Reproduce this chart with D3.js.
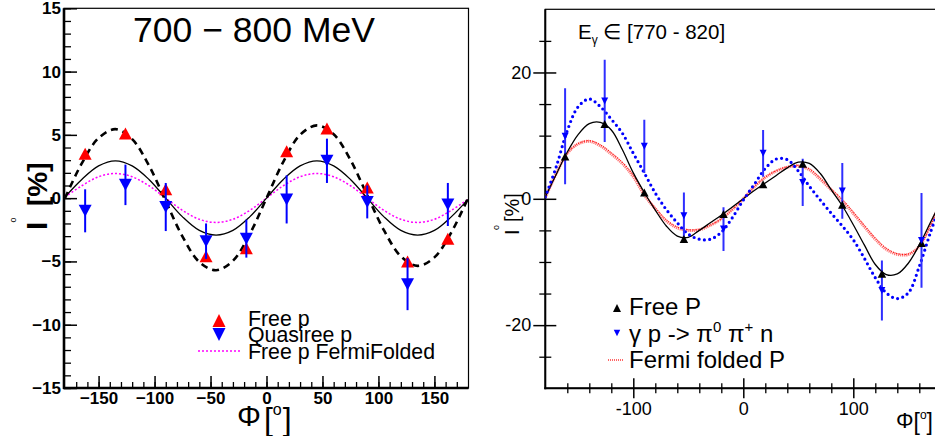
<!DOCTYPE html>
<html><head><meta charset="utf-8">
<script src="https://cdn.jsdelivr.net/npm/d3@7"></script>
<style>body{margin:0;background:#fff}svg{display:block}text{font-family:"Liberation Sans",Arial,sans-serif}</style>
</head><body><svg id="c" width="935" height="436"></svg>
<script>
// ---------- DATA ----------
const phiBins = [-162,-126,-90,-54,-18,18,54,90,126,162];
// left panel (700-800 MeV)
const leftFree = [3.5, 5.1, 0.7, -4.6, -3.95, 3.7, 5.5, 0.85, -5.0, -3.2];
const leftQuasi = [-1.0, 1.05, -0.7, -3.4, -3.2, -0.1, 2.95, -0.3, -6.8, -0.5];
const leftQuasiErr = [1.7, 1.6, 1.9, 1.4, 1.5, 1.9, 1.75, 1.3, 2.05, 1.7];
const leftCurvePhi = [-180,-165,-150,-135,-120,-105,-90,-75,-60,-45,-30,-15,0,15,30,45,60,75,90,105,120,135,150,165,180];
const leftDashed = [0,2.75,4.75,5.45,4.66,2.58,-0.24,-3.04,-5.05,-5.7,-4.95,-2.85,0,2.87,5.0,5.75,5.05,3.02,0.22,-2.55,-4.6,-5.35,-4.68,-2.72,0];
const leftSolid = [0.1,1.48,2.55,2.95,2.55,1.48,0,-1.48,-2.55,-2.92,-2.55,-1.48,0,1.48,2.55,2.95,2.55,1.48,0,-1.48,-2.55,-2.92,-2.55,-1.48,-0.1];
const leftFermi = [0.1,0.98,1.69,1.95,1.69,0.98,0,-0.97,-1.67,-1.92,-1.67,-0.97,0,0.98,1.69,1.95,1.69,0.98,0,-0.97,-1.67,-1.92,-1.67,-0.97,-0.1];
const leftYTicks = [-15,-10,-5,0,5,10,15];
const leftXTicks = [-150,-100,-50,0,50,100,150];
// right panel (770-820)
const rightFree = [6.7, 11.85, 1.0, -6.35, -2.4, 2.3, 5.55, -0.95, -11.85, -7.0];
const rightPi = [9.9, 15.5, 8.3, -2.7, -4.8, 7.2, 2.6, 1.25, -14.5, -6.6];
const rightPiErr = [7.6, 6.5, 4.2, 3.7, 3.45, 3.7, 3.75, 4.4, 4.75, 7.5];
const rightCurvePhi = [-180,-170,-160,-150,-140,-130,-120,-110,-100,-90,-80,-70,-60,-50,-40,-30,-20,-10,0,10,20,30,40,50,60,70,80,90,100,110,120,130,140,150,160,170,180];
const rightSolid = [0.3,3.9,7.4,10.2,11.9,12.1,10.9,7.8,4.1,1.0,-1.8,-4.3,-5.9,-6.1,-5.0,-3.8,-2.6,-1.3,0,1.3,2.5,3.7,4.9,5.8,5.6,4.0,1.4,-1.1,-4.1,-7.3,-10.4,-12.0,-11.9,-10.2,-7.3,-3.8,-0.3];
const rightPiCurve = [0.3,5.1,10.8,14.6,15.8,14.6,12.6,10.4,7.2,4.1,0.9,-1.7,-3.8,-5.6,-6.4,-6.4,-5.3,-3.0,-0.2,2.3,4.8,6.3,6.2,4.4,2.0,-0.2,-2.3,-4.3,-6.5,-9.4,-12.5,-14.9,-15.8,-14.9,-10.7,-5.4,-0.5];
const rightFermi = [0.2,4.0,7.2,8.7,9.1,8.4,7.1,5.6,3.5,0.6,-1.6,-3.5,-4.6,-5.0,-4.9,-4.2,-3.2,-1.7,0,1.9,3.4,4.4,5.0,5.2,4.6,3.1,1.4,-0.3,-2.3,-4.4,-6.4,-8.0,-8.8,-8.8,-7.5,-4.2,-0.2];
const rightYTicks = [-20,0,20];
const rightXTicks = [-100,0,100];

// ---------- DRAW ----------
const svg = d3.select("#c");
const xL = d3.scaleLinear().domain([-180,180]).range([65,468]);
const yL = d3.scaleLinear().domain([-15,15]).range([388,8.3]);
const xR = d3.scaleLinear().domain([-180,180]).range([545.3,941.3]);
const yR = d3.scaleLinear().domain([-30,30]).range([388.3,9.3]);

function tri(cx, cy, w, h, up){
  return up ? `M${cx},${cy-h/2}L${cx-w/2},${cy+h/2}L${cx+w/2},${cy+h/2}Z`
            : `M${cx},${cy+h/2}L${cx-w/2},${cy-h/2}L${cx+w/2},${cy-h/2}Z`;
}

// ===== LEFT PANEL =====
const L = svg.append("g");
L.append("rect").attr("x",xL.range()[0]-1).attr("y",yL.range()[1]).attr("width",xL.range()[1]-xL.range()[0]+1.5).attr("height",yL.range()[0]-yL.range()[1])
 .attr("fill","none").attr("stroke","#000").attr("stroke-width",1.2);
const yAxL = L.append("g").attr("transform",`translate(${xL.range()[0]-1},0)`)
  .call(d3.axisLeft(yL).tickValues(d3.range(-15,16,1)).tickSize(-7).tickFormat(""));
yAxL.select(".domain").remove();
yAxL.selectAll("line").attr("stroke-width",1.3);
const yAxL2 = L.append("g").attr("transform",`translate(${xL.range()[0]-1},0)`)
  .call(d3.axisLeft(yL).tickValues(leftYTicks).tickSize(-13).tickPadding(3).tickFormat(d=>d<0?"\u2212"+(-d):d));
yAxL2.select(".domain").remove();
yAxL2.selectAll("line").attr("stroke-width",1.5);
yAxL2.selectAll("text").attr("font-size",17).attr("font-weight","bold").attr("font-family","Liberation Sans").attr("fill","#000");
const xAxL = L.append("g").attr("transform",`translate(0,${yL.range()[0]})`)
  .call(d3.axisBottom(xL).tickValues(d3.range(-170,171,10)).tickSize(-6).tickFormat(""));
xAxL.select(".domain").remove();
xAxL.selectAll("line").attr("stroke-width",1.3);
const xAxL2 = L.append("g").attr("transform",`translate(0,${yL.range()[0]})`)
  .call(d3.axisBottom(xL).tickValues(leftXTicks).tickSize(-12).tickPadding(6).tickFormat(d=>d<0?"\u2212"+(-d):d));
xAxL2.select(".domain").remove();
xAxL2.selectAll("line").attr("stroke-width",1.5);
xAxL2.selectAll("text").attr("font-size",17).attr("font-weight","bold").attr("font-family","Liberation Sans").attr("fill","#000").attr("dy","0.6em");
L.append("line").attr("x1",xL.range()[0]-1).attr("x2",xL.range()[0]-1).attr("y1",yL.range()[1]).attr("y2",yL.range()[0]+1).attr("stroke","#000").attr("stroke-width",2.6);
L.append("line").attr("x1",xL.range()[0]-2).attr("x2",xL.range()[1]+0.5).attr("y1",yL.range()[0]).attr("y2",yL.range()[0]).attr("stroke","#000").attr("stroke-width",2.6);

const lineL = (vals)=>d3.line().x((d,i)=>xL(leftCurvePhi[i])).y(d=>yL(d)).curve(d3.curveCatmullRom)(vals);
L.append("path").attr("d",lineL(leftFermi)).attr("fill","none").attr("stroke","#ff00ff").attr("stroke-width",1.5).attr("stroke-dasharray","2,2");
L.append("path").attr("d",lineL(leftSolid)).attr("fill","none").attr("stroke","#000").attr("stroke-width",1.3);
L.append("path").attr("d",lineL(leftDashed)).attr("fill","none").attr("stroke","#000").attr("stroke-width",2.6).attr("stroke-dasharray","7,5");

L.selectAll(".rf").data(phiBins).enter().append("path")
  .attr("d",(d,i)=>tri(xL(d),yL(leftFree[i]),13,12,true)).attr("fill","#ff0000");
L.selectAll(".qe").data(phiBins).enter().append("line")
  .attr("x1",d=>xL(d)).attr("x2",d=>xL(d))
  .attr("y1",(d,i)=>yL(leftQuasi[i]+leftQuasiErr[i])).attr("y2",(d,i)=>yL(leftQuasi[i]-leftQuasiErr[i]))
  .attr("stroke","#0000ff").attr("stroke-width",2);
L.selectAll(".qf").data(phiBins).enter().append("path")
  .attr("d",(d,i)=>tri(xL(d),yL(leftQuasi[i]),13,12,false)).attr("fill","#0000ff");

L.append("text").attr("x",254).attr("y",42).attr("text-anchor","middle").attr("font-size",35.5).text("700 \u2212 800 MeV");
L.append("path").attr("d",tri(219,320.5,13,13,true)).attr("fill","#ff0000");
L.append("path").attr("d",tri(219,334.5,13,13,false)).attr("fill","#0000ff");
L.append("line").attr("x1",198).attr("x2",240).attr("y1",351).attr("y2",351).attr("stroke","#ff00ff").attr("stroke-width",1.5).attr("stroke-dasharray","2,2");
const legL = [["Free p",326],["Quasiree p",342],["Free p FermiFolded",358.5]];
legL.forEach(([t,y])=>L.append("text").attr("x",248).attr("y",y).attr("font-size",21.3).text(t));
// y label
L.append("text").attr("transform","translate(47,230) rotate(-90)").attr("font-size",30).attr("font-weight","bold").text("I");
L.append("text").attr("transform","translate(15.5,222.5) rotate(-90)").attr("font-size",9).text("o");
L.append("text").attr("transform","translate(47,206) rotate(-90)").attr("font-size",28).attr("font-weight","bold").text("[%]");
// x label
const xlab = L.append("text").attr("x",237).attr("y",426).attr("font-family","Liberation Serif");
xlab.append("tspan").attr("font-size",30).text("\u03A6");
xlab.append("tspan").attr("font-size",32).attr("dx",3).attr("dy",4).text("[");
xlab.append("tspan").attr("font-size",16).attr("font-family","Liberation Sans").attr("dy",-15).text("o");
xlab.append("tspan").attr("font-size",32).attr("dx",1).attr("dy",15).text("]");

// ===== RIGHT PANEL =====
const R = svg.append("g");
svg.append("defs").append("clipPath").attr("id","clipR").append("rect")
  .attr("x",xR.range()[0]).attr("y",yR.range()[1]).attr("width",xR.range()[1]-xR.range()[0]).attr("height",yR.range()[0]-yR.range()[1]);
R.append("rect").attr("x",xR.range()[0]).attr("y",yR.range()[1]).attr("width",xR.range()[1]-xR.range()[0]).attr("height",yR.range()[0]-yR.range()[1])
 .attr("fill","none").attr("stroke","#000").attr("stroke-width",1.2);
const yAxR1 = R.append("g").attr("transform",`translate(${xR.range()[0]},0)`)
  .call(d3.axisLeft(yR).tickValues([-25,-15,-10,-5,5,10,15,25]).tickSize(6).tickFormat(""));
yAxR1.select(".domain").remove();
yAxR1.selectAll("line").attr("x1",6).attr("stroke-width",1.3);
const yAxR2 = R.append("g").attr("transform",`translate(${xR.range()[0]},0)`)
  .call(d3.axisLeft(yR).tickValues(rightYTicks).tickSize(12).tickPadding(2).tickFormat(d=>d));
yAxR2.select(".domain").remove();
yAxR2.selectAll("line").attr("x1",11).attr("stroke-width",1.5);
yAxR2.selectAll("text").attr("font-size",18).attr("fill","#000").attr("font-family","Liberation Sans");
const xAxR1 = R.append("g").attr("transform",`translate(0,${yR.range()[0]})`)
  .call(d3.axisBottom(xR).tickValues([-160,-140,-120,-80,-60,-40,-20,20,40,60,80,120,140,160]).tickSize(5).tickFormat(""));
xAxR1.select(".domain").remove();
xAxR1.selectAll("line").attr("y1",-5).attr("stroke-width",1.3);
const xAxR2 = R.append("g").attr("transform",`translate(0,${yR.range()[0]})`)
  .call(d3.axisBottom(xR).tickValues(rightXTicks).tickSize(10).tickPadding(3).tickFormat(d=>d));
xAxR2.select(".domain").remove();
xAxR2.selectAll("line").attr("y1",-10).attr("stroke-width",1.5);
xAxR2.selectAll("text").attr("font-size",18).attr("fill","#000").attr("font-family","Liberation Sans").attr("dy","0.75em");
R.append("line").attr("x1",xR.range()[0]).attr("x2",xR.range()[0]).attr("y1",yR.range()[1]).attr("y2",yR.range()[0]+1).attr("stroke","#000").attr("stroke-width",2);
R.append("line").attr("x1",xR.range()[0]-1).attr("x2",xR.range()[1]).attr("y1",yR.range()[0]).attr("y2",yR.range()[0]).attr("stroke","#000").attr("stroke-width",2);

const C = R.append("g").attr("clip-path","url(#clipR)");
const lineR = (vals)=>d3.line().x((d,i)=>xR(rightCurvePhi[i])).y(d=>yR(d)).curve(d3.curveCatmullRom)(vals);
C.append("path").attr("d",lineR(rightFermi)).attr("fill","none").attr("stroke","#ff5a5a").attr("stroke-width",3).attr("stroke-dasharray","1.2,0.8").attr("opacity",0.85);
C.append("path").attr("d",lineR(rightFermi)).attr("transform","translate(0.6,-0.6)").attr("fill","none").attr("stroke","#ff0000").attr("stroke-width",1).attr("stroke-dasharray","1.5,1.5").attr("opacity",0.9);
C.append("path").attr("d",lineR(rightSolid)).attr("fill","none").attr("stroke","#000").attr("stroke-width",1.3);
C.append("path").attr("d",lineR(rightPiCurve)).attr("fill","none").attr("stroke","#0000ff").attr("stroke-width",3.2).attr("stroke-linecap","round").attr("stroke-dasharray","0,5.3");
C.selectAll(".pe").data(phiBins).enter().append("line")
  .attr("x1",d=>xR(d)).attr("x2",d=>xR(d))
  .attr("y1",(d,i)=>yR(rightPi[i]+rightPiErr[i])).attr("y2",(d,i)=>yR(rightPi[i]-rightPiErr[i]))
  .attr("stroke","#2f2fff").attr("stroke-width",2);
C.selectAll(".ff").data(phiBins).enter().append("path")
  .attr("d",(d,i)=>tri(xR(d),yR(rightFree[i]),8.5,8,true)).attr("fill","#000");
C.selectAll(".pp").data(phiBins).enter().append("path")
  .attr("d",(d,i)=>tri(xR(d),yR(rightPi[i]),7,7,false)).attr("fill","#0000ff");

const tR = R.append("text").attr("x",578).attr("y",39).attr("font-size",20.5);
tR.append("tspan").text("E");
tR.append("tspan").attr("font-size",12).attr("dy",5).text("\u03B3");
tR.append("tspan").attr("dy",-5).text(" \u2208 [770 - 820]");
R.append("path").attr("d",tri(617,308,8,8,true)).attr("fill","#000");
R.append("path").attr("d",tri(617,333,6.5,6.5,false)).attr("fill","#0000ff");
R.append("line").attr("x1",608).attr("x2",624).attr("y1",360).attr("y2",360).attr("stroke","#ff3333").attr("stroke-width",1.6).attr("stroke-dasharray","1,1");
R.append("text").attr("x",629).attr("y",315).attr("font-size",24).text("Free P");
const g2 = R.append("text").attr("x",629).attr("y",341.7).attr("font-size",24);
g2.append("tspan").text("\u03B3 p -> \u03C0");
g2.append("tspan").attr("font-size",15).attr("dy",-10).text("0");
g2.append("tspan").attr("dy",10).text(" \u03C0");
g2.append("tspan").attr("font-size",15).attr("dy",-10).text("+");
g2.append("tspan").attr("dy",10).text(" n");
R.append("text").attr("x",629).attr("y",368.3).attr("font-size",24).text("Fermi folded P");
// y label
R.append("text").attr("transform","translate(519,235) rotate(-90)").attr("font-size",20).text("I");
R.append("text").attr("transform","translate(499,230) rotate(-90)").attr("font-size",9).text("o");
R.append("text").attr("transform","translate(519,222) rotate(-90)").attr("font-size",20).text("[%]");
// x label
const xlR = R.append("text").attr("x",933).attr("y",428).attr("text-anchor","end").attr("font-family","Liberation Serif");
xlR.append("tspan").attr("font-size",22).text("\u03A6");
xlR.append("tspan").attr("font-size",23).attr("dy",2).text("[");
xlR.append("tspan").attr("font-size",12).attr("font-family","Liberation Sans").attr("dy",-11).text("o");
xlR.append("tspan").attr("font-size",23).attr("dy",11).text("]");
</script></body></html>
